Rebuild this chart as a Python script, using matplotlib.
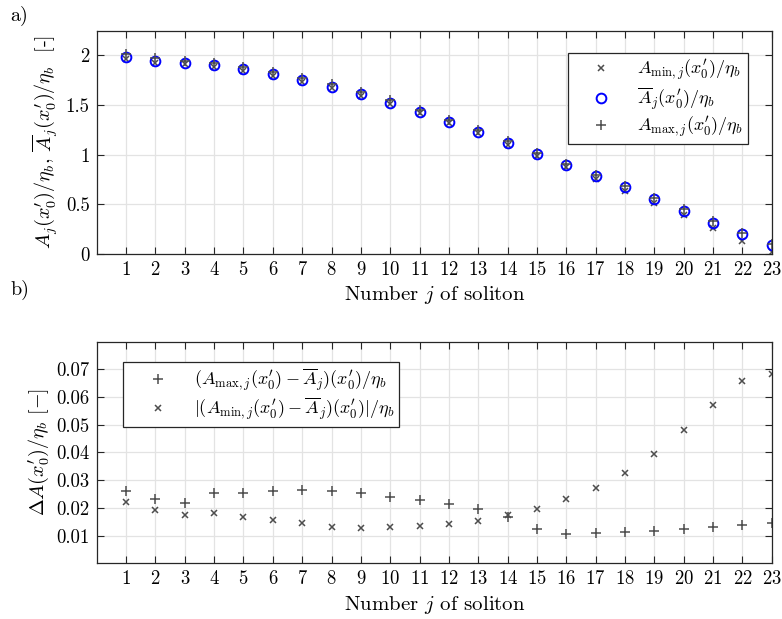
import numpy as np
import matplotlib
matplotlib.use('Agg')
import matplotlib.pyplot as plt

plt.rcParams['font.family'] = 'serif'
plt.rcParams['font.serif'] = ['cmr10']
plt.rcParams['mathtext.fontset'] = 'cm'
plt.rcParams['axes.formatter.use_mathtext'] = True

# Nummer des Solitons
j = np.arange(1, 24)

# mittlere Amplitude A_j / eta_b
a_mean = [1.987, 1.947, 1.927, 1.900, 1.860, 1.810, 1.750, 1.685, 1.608, 1.524,
          1.430, 1.330, 1.230, 1.118, 1.007, 0.896, 0.782, 0.671, 0.554, 0.436,
          0.315, 0.198, 0.087]

# (A_max - A_mean) / eta_b
d_max = [0.0262, 0.0231, 0.0217, 0.0255, 0.0255, 0.0262, 0.0265, 0.0262, 0.0253, 0.0241,
         0.0229, 0.0214, 0.0195, 0.0166, 0.0123, 0.0106, 0.0108, 0.0112, 0.0118, 0.0123,
         0.0130, 0.0137, 0.0145]

# |A_min - A_mean| / eta_b
d_min = [0.0222, 0.0193, 0.0173, 0.0181, 0.0168, 0.0156, 0.0145, 0.0130, 0.0128, 0.0130,
         0.0135, 0.0142, 0.0154, 0.0175, 0.0197, 0.0231, 0.0271, 0.0325, 0.0395, 0.0482,
         0.0572, 0.0659, 0.0685]

a_max = np.array(a_mean) + np.array(d_max)
a_min = np.array(a_mean) - np.array(d_min)

grau = '#4d4d4d'
achse = '#262626'
fs_tick = 13.5
fs_lab = 14.5
fs_leg = 13


def style_axes(ax):
    ax.set_xlim(0, 23)
    ax.set_xticks(j)
    ax.grid(True, color='#e3e3e3', linewidth=0.9)
    ax.set_axisbelow(True)
    ax.tick_params(direction='in', top=True, right=True, labelsize=fs_tick,
                   color=achse, length=5, width=0.8, pad=5)
    for s in ax.spines.values():
        s.set_color(achse)
        s.set_linewidth(0.9)
    ax.set_xlabel('Number $j$ of soliton', fontsize=fs_lab + 0.5, labelpad=4)


fig = plt.figure(figsize=(7.82, 6.19), dpi=100)

# a) Amplituden
ax1 = fig.add_axes([0.1237, 0.5897, 0.8632, 0.3608])
ax1.plot(j, a_min, 'x', color=grau, markersize=5, markeredgewidth=1.1,
         label=r"$A_{\mathrm{min},j}(x_0')/\eta_b$")
ax1.plot(j, a_mean, 'o', color='blue', markerfacecolor='none', markersize=7,
         markeredgewidth=1.4, label=r"$\overline{A}_j(x_0')/\eta_b$")
ax1.plot(j, a_max, '+', color=grau, markersize=6.5, markeredgewidth=1.1,
         label=r"$A_{\mathrm{max},j}(x_0')/\eta_b$")
ax1.set_ylim(0, 2.25)
ax1.set_yticks([0, 0.5, 1, 1.5, 2])
ax1.set_yticklabels(['0', '0.5', '1', '1.5', '2'])
style_axes(ax1)
ax1.set_ylabel(r"$A_j(x_0')/\eta_b$, $\overline{A}_j(x_0')/\eta_b$  [-]", fontsize=fs_lab)
leg1 = ax1.legend(loc='upper right', fontsize=fs_leg, fancybox=False, framealpha=1,
                  edgecolor=achse, borderpad=0.25, labelspacing=0.15,
                  handlelength=3.2, handletextpad=0.4,
                  bbox_to_anchor=(0.978, 0.94))
leg1.get_frame().set_linewidth(0.9)

# b) Abweichungen
ax2 = fig.add_axes([0.1237, 0.0900, 0.8632, 0.358])
ax2.plot(j, d_max, '+', color=grau, markersize=6.5, markeredgewidth=1.1,
         label=r"$(A_{\mathrm{max},j}(x_0') - \overline{A}_j)(x_0')/\eta_b$")
ax2.plot(j, d_min, 'x', color=grau, markersize=5, markeredgewidth=1.1,
         label=r"$|(A_{\mathrm{min},j}(x_0') - \overline{A}_j)(x_0')|/\eta_b$")
ax2.set_ylim(0, 0.08)
ax2.set_yticks([0.01, 0.02, 0.03, 0.04, 0.05, 0.06, 0.07])
ax2.set_yticklabels(['0.01', '0.02', '0.03', '0.04', '0.05', '0.06', '0.07'])
style_axes(ax2)
ax2.set_ylabel(r"$\Delta A(x_0')/\eta_b$ $[-]$", fontsize=fs_lab)
leg2 = ax2.legend(loc='upper left', fontsize=fs_leg, fancybox=False, framealpha=1,
                  edgecolor=achse, borderpad=0.25, labelspacing=0.15,
                  handlelength=3.4, handletextpad=0.3,
                  bbox_to_anchor=(0.025, 0.95))
leg2.get_frame().set_linewidth(0.9)

fig.text(0.013, 0.975, 'a)', fontsize=fs_lab, va='center')
fig.text(0.013, 0.532, 'b)', fontsize=fs_lab, va='center')

fig.savefig('out.png', dpi=100)
